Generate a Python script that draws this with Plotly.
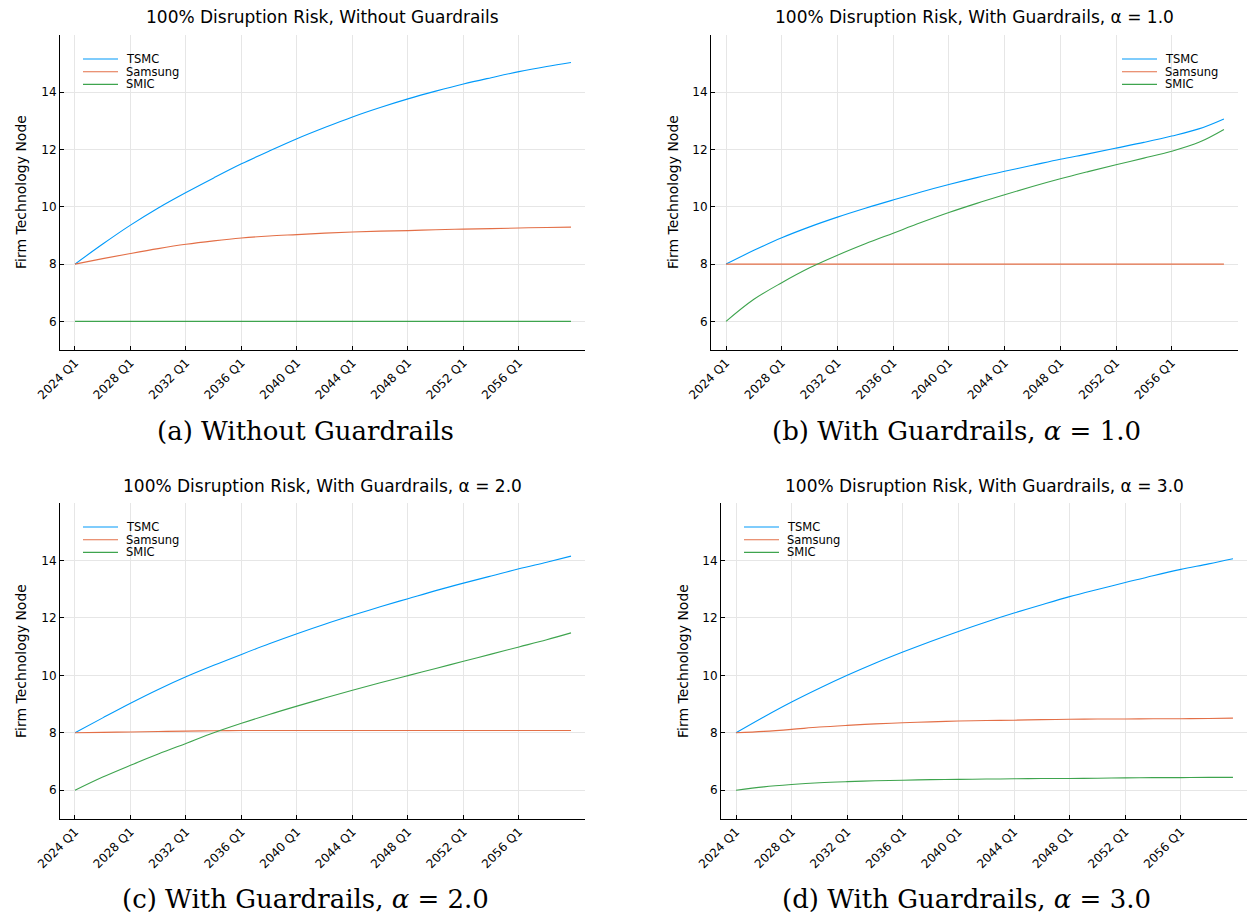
import plotly.graph_objects as go

W, H = 1248, 915

# ---- data ----
years = [2024, 2026, 2028, 2030, 2032, 2034, 2036, 2038, 2040, 2042,
         2044, 2046, 2048, 2050, 2052, 2054, 2056, 2058, 2059.75]
firms = ["TSMC", "Samsung", "SMIC"]
colors = ["#009AFA", "#E36F47", "#3EA44E"]

a_tsmc = [8.00, 8.70, 9.36, 9.96, 10.50, 11.01, 11.50, 11.95, 12.38, 12.77,
          13.14, 13.47, 13.77, 14.04, 14.29, 14.51, 14.72, 14.90, 15.04]
a_samsung = [8.00, 8.19, 8.37, 8.54, 8.69, 8.81, 8.91, 8.98, 9.03, 9.08,
             9.12, 9.15, 9.17, 9.20, 9.22, 9.24, 9.26, 9.28, 9.29]
a_smic = [6.00] * 19

b_tsmc = [8.00, 8.48, 8.92, 9.30, 9.64, 9.95, 10.24, 10.52, 10.78, 11.02,
          11.24, 11.45, 11.66, 11.85, 12.05, 12.25, 12.47, 12.73, 13.07]
b_samsung = [8.00] * 19
b_smic = [6.00, 6.77, 7.35, 7.87, 8.31, 8.71, 9.08, 9.45, 9.80, 10.12,
          10.42, 10.71, 10.98, 11.23, 11.47, 11.70, 11.94, 12.26, 12.70]

c_tsmc = [8.00, 8.52, 9.03, 9.51, 9.95, 10.35, 10.73, 11.10, 11.45, 11.78,
          12.09, 12.39, 12.67, 12.95, 13.21, 13.46, 13.71, 13.94, 14.15]
c_samsung = [8.00, 8.015, 8.03, 8.045, 8.06, 8.07, 8.08, 8.08, 8.08, 8.08,
             8.08, 8.08, 8.08, 8.08, 8.08, 8.08, 8.08, 8.08, 8.08]
c_smic = [6.00, 6.46, 6.87, 7.26, 7.63, 8.00, 8.33, 8.64, 8.93, 9.21,
          9.48, 9.74, 9.99, 10.24, 10.49, 10.74, 10.99, 11.24, 11.48]

d_tsmc = [8.00, 8.55, 9.07, 9.55, 10.00, 10.42, 10.81, 11.18, 11.53, 11.86,
          12.17, 12.46, 12.74, 12.99, 13.23, 13.47, 13.69, 13.88, 14.06]
d_samsung = [8.00, 8.05, 8.12, 8.20, 8.26, 8.31, 8.35, 8.38, 8.41, 8.43,
             8.44, 8.46, 8.47, 8.48, 8.48, 8.49, 8.49, 8.50, 8.51]
d_smic = [6.00, 6.12, 6.20, 6.26, 6.30, 6.33, 6.35, 6.37, 6.38, 6.39,
          6.40, 6.41, 6.41, 6.42, 6.43, 6.44, 6.44, 6.45, 6.45]

tick_years = [2024, 2028, 2032, 2036, 2040, 2044, 2048, 2052, 2056]
tick_labels = ["2024 Q1", "2028 Q1", "2032 Q1", "2036 Q1", "2040 Q1",
               "2044 Q1", "2048 Q1", "2052 Q1", "2056 Q1"]
y_ticks = [6, 8, 10, 12, 14]

titles = ["100% Disruption Risk, Without Guardrails",
          "100% Disruption Risk, With Guardrails, α = 1.0",
          "100% Disruption Risk, With Guardrails, α = 2.0",
          "100% Disruption Risk, With Guardrails, α = 3.0"]
captions = ["(a) Without Guardrails",
            "(b) With Guardrails, <i>α</i> = 1.0",
            "(c) With Guardrails, <i>α</i> = 2.0",
            "(d) With Guardrails, <i>α</i> = 3.0"]

panels = [(a_tsmc, a_samsung, a_smic), (b_tsmc, b_samsung, b_smic),
          (c_tsmc, c_samsung, c_smic), (d_tsmc, d_samsung, d_smic)]

# ---- layout geometry (pixels) ----
boxes = [(60, 585, 35, 350), (711, 1238, 35, 350),
         (60, 585, 503, 819), (721, 1247, 503, 819)]
title_pos = [(322.5, 17), (974.5, 17), (322.5, 486), (984, 486)]
ytitle_pos = [(21, 192), (673, 192), (21, 661), (683, 661)]
caption_pos = [(305, 431), (956, 431), (305, 899), (966, 899)]
# legend: (line x0, line x1, text x, first row y)
legend_geo = [(83, 118, 124, 59), (1122, 1157, 1163, 59),
              (83, 118, 124, 527), (744, 779, 785, 527)]
row_gap = 12.7


def px(x):
    return x / W


def py(y):
    return 1 - y / H


fig = go.Figure()
annotations = []
shapes = []
for i, (series, box) in enumerate(zip(panels, boxes)):
    n = "" if i == 0 else str(i + 1)
    for name, vals, col in zip(firms, series, colors):
        fig.add_trace(go.Scatter(
            x=years, y=vals, mode="lines", name=name,
            line=dict(color=col, width=1.1, shape="spline", smoothing=1.0),
            xaxis="x" + n, yaxis="y" + n, showlegend=False))
    x0, x1, y0, y1 = box
    common = dict(showgrid=True, gridcolor="#e6e6e6", gridwidth=1,
                  showline=True, linecolor="black", linewidth=1,
                  ticks="inside", ticklen=4, tickcolor="black",
                  tickfont=dict(family="DejaVu Sans", size=12, color="black"),
                  zeroline=False, mirror=False, automargin=False)
    fig.layout["xaxis" + n] = dict(
        domain=[px(x0), px(x1)], anchor="y" + n, range=[2022.92, 2060.76],
        tickvals=tick_years, ticktext=tick_labels, tickangle=-45, **common)
    fig.layout["yaxis" + n] = dict(
        domain=[py(y1), py(y0)], anchor="x" + n, range=[5, 16],
        tickvals=y_ticks, ticktext=[str(v) for v in y_ticks], **common)

    # legend drawn as sample lines + labels
    lx0, lx1, ltx, ly = legend_geo[i]
    for k, (name, col) in enumerate(zip(firms, colors)):
        yy = ly + k * row_gap
        shapes.append(dict(type="line", xref="paper", yref="paper",
                           x0=px(lx0), x1=px(lx1), y0=py(yy), y1=py(yy),
                           line=dict(color=col, width=1.1)))
        annotations.append(dict(text=name, x=px(ltx), y=py(yy), xref="paper", yref="paper",
                                showarrow=False, xanchor="left", yanchor="middle",
                                font=dict(family="DejaVu Sans", size=11.5, color="black")))

    tx, ty = title_pos[i]
    annotations.append(dict(text=titles[i], x=px(tx), y=py(ty), xref="paper", yref="paper",
                            showarrow=False, xanchor="center", yanchor="middle",
                            font=dict(family="DejaVu Sans", size=17, color="black")))
    ax, ay = ytitle_pos[i]
    annotations.append(dict(text="Firm Technology Node", x=px(ax), y=py(ay), xref="paper", yref="paper",
                            showarrow=False, xanchor="center", yanchor="middle", textangle=-90,
                            font=dict(family="DejaVu Sans", size=14, color="black")))
    cx, cy = caption_pos[i]
    annotations.append(dict(text=captions[i], x=px(cx), y=py(cy), xref="paper", yref="paper",
                            showarrow=False, xanchor="center", yanchor="middle",
                            font=dict(family="DejaVu Serif", size=26, color="black")))

fig.update_layout(
    template="none",
    width=W, height=H, margin=dict(l=0, r=0, t=0, b=0, pad=0),
    paper_bgcolor="white", plot_bgcolor="white",
    annotations=annotations, shapes=shapes, showlegend=False)

fig.write_html("out.html", config={"displayModeBar": False},
               post_script="document.body.style.margin='0px';document.body.style.overflow='hidden';")
